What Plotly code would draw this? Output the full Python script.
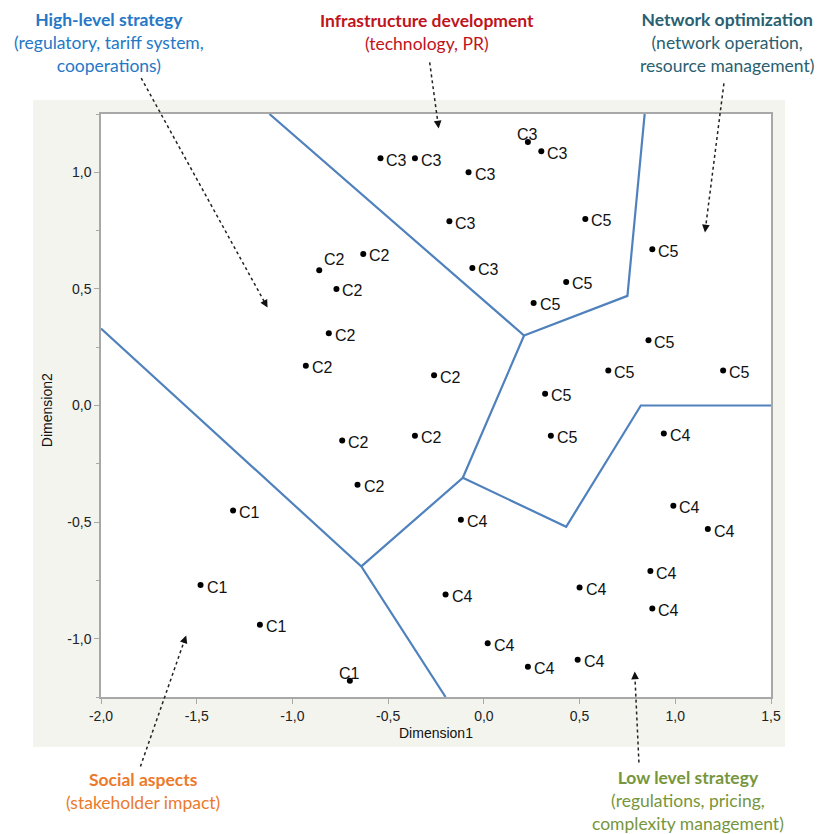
import plotly.graph_objects as go

# Cluster scores on the two MDS dimensions
c1_x = [-1.31, -1.48, -1.17, -0.70]
c1_y = [-0.45, -0.77, -0.94, -1.18]

c2_x = [-0.86, -0.63, -0.77, -0.81, -0.93, -0.26, -0.74, -0.36, -0.66]
c2_y = [0.58, 0.65, 0.50, 0.31, 0.17, 0.13, -0.15, -0.13, -0.34]

c3_x = [-0.54, -0.36, -0.08, 0.23, 0.30, -0.18, -0.06]
c3_y = [1.06, 1.06, 1.00, 1.13, 1.09, 0.79, 0.59]

c4_x = [0.94, 0.99, 1.17, -0.12, 0.87, 0.50, 0.88, -0.20, 0.02, 0.23, 0.49]
c4_y = [-0.12, -0.43, -0.53, -0.49, -0.71, -0.78, -0.87, -0.81, -1.02, -1.12, -1.09]

c5_x = [0.53, 0.88, 0.43, 0.26, 0.86, 0.65, 1.25, 0.32, 0.35]
c5_y = [0.80, 0.67, 0.53, 0.44, 0.28, 0.15, 0.15, 0.05, -0.13]

# Region boundaries (polylines)
boundary_a_x = [-1.12, 0.21, 0.75, 0.84]
boundary_a_y = [1.25, 0.30, 0.47, 1.25]
boundary_b_x = [0.21, -0.11, -0.64]
boundary_b_y = [0.30, -0.31, -0.69]
boundary_c_x = [-0.11, 0.43, 0.82, 1.5]
boundary_c_y = [-0.31, -0.52, 0.0, 0.0]
boundary_d_x = [-2.0, -0.64, -0.20]
boundary_d_y = [0.33, -0.69, -1.25]

# Axis ticks (comma decimals, plain hyphen minus)
x_tickvals = [-2.0, -1.5, -1.0, -0.5, 0.0, 0.5, 1.0, 1.5]
x_ticktext = ["-2,0", "-1,5", "-1,0", "-0,5", "0,0", "0,5", "1,0", "1,5"]
y_tickvals = [-1.0, -0.5, 0.0, 0.5, 1.0]
y_ticktext = ["-1,0", "-0,5", "0,0", "0,5", "1,0"]

X_RANGE = [-2.0, 1.5]
Y_RANGE = [-1.25, 1.25]
W, H = 819, 834
M_L, M_R, M_T, M_B = 101, 48, 114, 137
PLOT_W = W - M_L - M_R
PLOT_H = H - M_T - M_B

LABEL_FONT = dict(family="Liberation Sans, Arial, sans-serif", size=16, color="#111111")
NOTE_FONT = "Lato, Calibri, sans-serif"


def to_paper(x, y):
    px = (x - X_RANGE[0]) / (X_RANGE[1] - X_RANGE[0])
    py = (y - Y_RANGE[0]) / (Y_RANGE[1] - Y_RANGE[0])
    return px, py


fig = go.Figure()

# boundaries
for bx, by in [(boundary_a_x, boundary_a_y), (boundary_b_x, boundary_b_y),
               (boundary_c_x, boundary_c_y), (boundary_d_x, boundary_d_y)]:
    fig.add_trace(go.Scatter(x=bx, y=by, mode="lines",
                             line=dict(color="#4F81BD", width=2.2),
                             hoverinfo="skip", showlegend=False))

clusters = [
    ("C1", c1_x, c1_y, ["r", "r", "r", "t"]),
    ("C2", c2_x, c2_y, ["tr", "r", "r", "r", "r", "r", "r", "r", "r"]),
    ("C3", c3_x, c3_y, ["r", "r", "r", "t", "r", "r", "r"]),
    ("C4", c4_x, c4_y, ["r"] * len(c4_x)),
    ("C5", c5_x, c5_y, ["r"] * len(c5_x)),
]

annotations = []
for name, xs, ys, places in clusters:
    fig.add_trace(go.Scatter(x=xs, y=ys, mode="markers", name=name,
                             marker=dict(color="black", size=6),
                             showlegend=False))
    for x, y, p in zip(xs, ys, places):
        if p == "r":
            annotations.append(dict(x=x, y=y, xref="x", yref="y", text=name,
                                    showarrow=False, xanchor="left", yanchor="middle",
                                    xshift=4, yshift=-2, font=LABEL_FONT))
        elif p == "t":
            annotations.append(dict(x=x, y=y, xref="x", yref="y", text=name,
                                    showarrow=False, xanchor="center", yanchor="middle",
                                    xshift=0, yshift=7, font=LABEL_FONT))
        else:
            annotations.append(dict(x=x, y=y, xref="x", yref="y", text=name,
                                    showarrow=False, xanchor="center", yanchor="middle",
                                    xshift=15, yshift=11, font=LABEL_FONT))

# beige panel behind the plot, then a white plotting area on top of it
shapes = [
    dict(type="rect", xref="paper", yref="paper", x0=-0.1015, x1=1.021, y0=-0.0858, y1=1.024,
         fillcolor="#F4F4EF", line=dict(width=0), layer="below"),
    dict(type="rect", xref="paper", yref="paper", x0=0, x1=1, y0=0, y1=1,
         fillcolor="white", line=dict(width=0), layer="below"),
]

# callouts: (start, tip) in data units, text, colour, text centre in paper units
callouts = [
    ((-1.79, 1.404), (-1.13, 0.42),
     "<b>High-level strategy</b><br>(regulatory, tariff system,<br>cooperations)",
     "#2478C6", (0.012, 1.122)),
    ((-0.283, 1.471), (-0.236, 1.188),
     "<b>Infrastructure development</b><br>(technology, PR)",
     "#C0141C", (0.4866, 1.1415)),
    ((1.254, 1.381), (1.155, 0.742),
     "<b>Network optimization</b><br>(network operation,<br>resource management)",
     "#2A6070", (0.934, 1.122)),
    ((-1.794, -1.548), (-1.555, -0.986),
     "<b>Social aspects</b><br>(stakeholder impact)",
     "#EC7A2C", (0.0627, -0.1604)),
    ((0.810, -1.531), (0.788, -1.141),
     "<b>Low level strategy</b><br>(regulations, pricing,<br>complexity management)",
     "#77963C", (0.876, -0.1775)),
]

sx = PLOT_W / (X_RANGE[1] - X_RANGE[0])
sy = PLOT_H / (Y_RANGE[1] - Y_RANGE[0])
for (x0, y0), (x1, y1), text, color, (tx, ty) in callouts:
    dx = (x1 - x0) * sx
    dy = -(y1 - y0) * sy
    length = (dx ** 2 + dy ** 2) ** 0.5
    ux, uy = dx / length, dy / length
    # dotted leader, stopping just short of the arrowhead
    ex = x1 - ux * 6 / sx
    ey = y1 + uy * 6 / sy
    p0 = to_paper(x0, y0)
    p1 = to_paper(ex, ey)
    shapes.append(dict(type="line", xref="paper", yref="paper",
                       x0=p0[0], y0=p0[1], x1=p1[0], y1=p1[1],
                       line=dict(color="#222222", width=1.5, dash="dot")))
    annotations.append(dict(x=x1, y=y1, xref="x", yref="y", text="",
                            showarrow=True, arrowhead=2, arrowsize=1.1, arrowwidth=1.4,
                            arrowcolor="#111111", ax=-ux * 9, ay=-uy * 9, standoff=0))
    annotations.append(dict(x=tx, y=ty, xref="paper", yref="paper", text=text,
                            showarrow=False, xanchor="center", yanchor="middle",
                            align="center",
                            font=dict(family=NOTE_FONT, size=17.5, color=color)))

# axis titles
annotations.append(dict(x=0.5, y=-0.062, xref="paper", yref="paper", text="Dimension1",
                        showarrow=False, xanchor="center", yanchor="middle",
                        font=dict(family="Liberation Sans, Arial, sans-serif", size=14, color="#111111")))
annotations.append(dict(x=-0.0806, y=0.492, xref="paper", yref="paper", text="Dimension2",
                        showarrow=False, xanchor="center", yanchor="middle", textangle=-90,
                        font=dict(family="Liberation Sans, Arial, sans-serif", size=14, color="#111111")))

axis_common = dict(showgrid=False, zeroline=False, showline=True, mirror=True,
                   linecolor="#A8A8A8", linewidth=1.5, ticks="outside", ticklen=5,
                   tickwidth=1, tickcolor="#A8A8A8",
                   tickfont=dict(family="Liberation Sans, Arial, sans-serif", size=14, color="#222222"))

fig.update_layout(
    width=W, height=H,
    margin=dict(l=M_L, r=M_R, t=M_T, b=M_B, pad=0),
    paper_bgcolor="white", plot_bgcolor="white",
    showlegend=False,
    shapes=shapes,
    annotations=annotations,
    xaxis=dict(range=X_RANGE, tickmode="array", tickvals=x_tickvals, ticktext=x_ticktext,
               **axis_common),
    yaxis=dict(range=Y_RANGE, tickmode="array", tickvals=y_tickvals, ticktext=y_ticktext,
               minor=dict(dtick=0.25, tick0=0, ticks="outside", ticklen=3, tickcolor="#A8A8A8"),
               **axis_common),
)

fig.write_html("out.html")
